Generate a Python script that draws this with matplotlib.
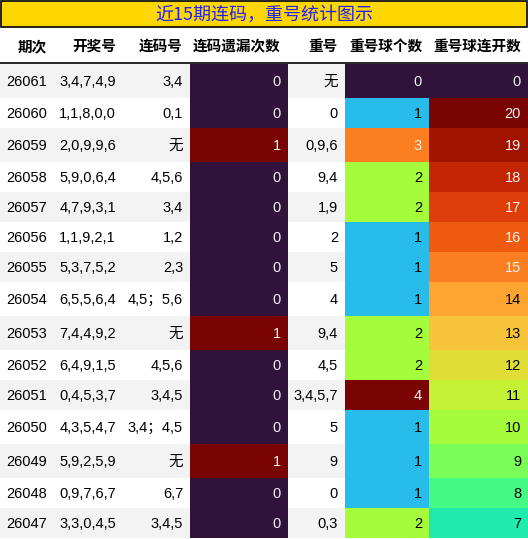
import matplotlib
matplotlib.use('Agg')
import matplotlib.pyplot as plt
import matplotlib.patches as mpatches
from matplotlib import colors as mcolors

# Table data
title = '近15期连码，重号统计图示'
headers = ['期次', '开奖号', '连码号', '连码遗漏次数', '重号', '重号球个数', '重号球连开数']
periods = [26061, 26060, 26059, 26058, 26057, 26056, 26055, 26054,
           26053, 26052, 26051, 26050, 26049, 26048, 26047]
draws = ['3,4,7,4,9', '1,1,8,0,0', '2,0,9,9,6', '5,9,0,6,4', '4,7,9,3,1',
         '1,1,9,2,1', '5,3,7,5,2', '6,5,5,6,4', '7,4,4,9,2', '6,4,9,1,5',
         '0,4,5,3,7', '4,3,5,4,7', '5,9,2,5,9', '0,9,7,6,7', '3,3,0,4,5']
lian_codes = ['3,4', '0,1', '无', '4,5,6', '3,4', '1,2', '2,3', '4,5；5,6',
              '无', '4,5,6', '3,4,5', '3,4；4,5', '无', '6,7', '3,4,5']
lian_miss = [0, 0, 1, 0, 0, 0, 0, 0, 1, 0, 0, 0, 1, 0, 0]
repeats = ['无', '0', '0,9,6', '9,4', '1,9', '2', '5', '4', '9,4', '4,5',
           '3,4,5,7', '5', '9', '0', '0,3']
repeat_count = [0, 1, 3, 2, 2, 1, 1, 1, 2, 2, 4, 1, 1, 1, 2]
repeat_run = [0, 20, 19, 18, 17, 16, 15, 14, 13, 12, 11, 10, 9, 8, 7]

W, H = 528, 539
col_right = [54, 123, 190, 288, 345, 429, 528]
col_left = [0] + col_right[:-1]
TITLE_H = 27
HEAD_BOT = 63
PAD = 7
FONT = ['Liberation Sans', 'Noto Sans CJK SC', 'DejaVu Sans']
HEAD_FONT = ['Noto Sans CJK SC', 'DejaVu Sans']
FS = 10.5


def luminance(rgb):
    vals = []
    for c in rgb[:3]:
        vals.append(c / 12.92 if c <= 0.03928 else ((c + 0.055) / 1.055) ** 2.4)
    return 0.2126 * vals[0] + 0.7152 * vals[1] + 0.0722 * vals[2]


fig = plt.figure(figsize=(W / 100, H / 100), dpi=100)
ax = fig.add_axes([0, 0, 1, 1])
ax.set_xlim(0, W)
ax.set_ylim(H, 0)
ax.axis('off')

# Title band
ax.add_patch(mpatches.Rectangle((0.75, 0.75), W - 1.5, TITLE_H - 0.75, fc='#ffd700',
                                ec='black', lw=1.2))
ax.text(W / 2, TITLE_H / 2 + 1, title, color='#1f1fff', fontsize=13,
        family=HEAD_FONT, ha='center', va='center')

# Header
for i, h in enumerate(headers):
    ax.text(col_right[i] - PAD, (TITLE_H + HEAD_BOT) / 2 + 1, h, fontsize=FS,
            family=HEAD_FONT, fontweight='bold', ha='right', va='center')
ax.plot([0, W], [HEAD_BOT, HEAD_BOT], color='black', lw=1.2)

cmap = plt.get_cmap('turbo')
grad_cols = {3: lian_miss, 5: repeat_count, 6: repeat_run}
norms = {k: mcolors.Normalize(min(v), max(v)) for k, v in grad_cols.items()}

y = HEAD_BOT + 1
for r in range(len(periods)):
    row = [str(periods[r]), draws[r], lian_codes[r], str(lian_miss[r]),
           repeats[r], str(repeat_count[r]), str(repeat_run[r])]
    # rows holding CJK glyphs come out a little taller
    rh = 34 if any(ord(ch) > 127 for s in row for ch in s) else 30
    base = '#f3f3f3' if r % 2 == 0 else 'white'
    for c, s in enumerate(row):
        if c in grad_cols:
            fc = cmap(norms[c](grad_cols[c][r]))
            tc = '#f1f1f1' if luminance(fc) < 0.408 else '#000000'
        else:
            fc = base
            tc = '#000000'
        ax.add_patch(mpatches.Rectangle((col_left[c], y), col_right[c] - col_left[c], rh,
                                        fc=fc, ec='none'))
        ax.text(col_right[c] - PAD, y + rh / 2 + 0.5, s, color=tc, fontsize=FS,
                family=FONT, ha='right', va='center')
    y += rh

fig.savefig('out.png', dpi=100)
